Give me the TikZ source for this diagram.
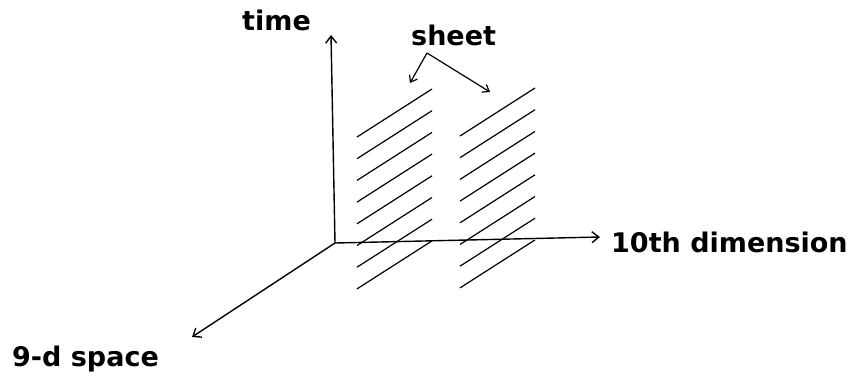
\documentclass[tikz,border=0pt]{standalone}
\usepackage{fontspec}
\setmainfont{DejaVu Sans}
\usetikzlibrary{arrows.meta}
\tikzset{axis/.style={line width=1.4pt,-{Straight Barb[length=7pt,width=11pt]}},
 pointer/.style={line width=1.2pt,-{Straight Barb[length=6pt,width=9pt]}},
 hatch/.style={line width=1.2pt},
 axlabel/.style={font=\fontsize{27}{30}\selectfont\bfseries,inner sep=0pt,anchor=base west}}

\begin{document}
\begin{tikzpicture}[x=1pt,y=-1pt]
\useasboundingbox (0,0) rectangle (851,381);
% axes
\coordinate (O) at (335,243);
\coordinate (tEnd) at (331,35);
\coordinate (xEnd) at (600,237);
\coordinate (sEnd) at (192,337);
\draw[axis] (O) -- (tEnd);
\draw[axis] (O) -- (xEnd);
\draw[axis] (O) -- (sEnd);
\node[axlabel] (time) at (242,30) {time};
\node[axlabel] (dim) at (611,252) {10th dimension};
\node[axlabel] (space) at (12,366) {9-d space};
% the two sheets
\foreach \x/\y in {357/137,460/136}
 \foreach \i in {0,...,7}
  \draw[hatch] (\x,{\y+21.7*\i}) -- +(75,-48);
\node[axlabel] (sheet) at (411,45) {sheet};
\coordinate (apex) at (427,53);
\coordinate (tipL) at (410,83);
\coordinate (tipR) at (490,92);
\draw[pointer] (apex) -- (tipL);
\draw[pointer] (apex) -- (tipR);
\end{tikzpicture}
\end{document}
